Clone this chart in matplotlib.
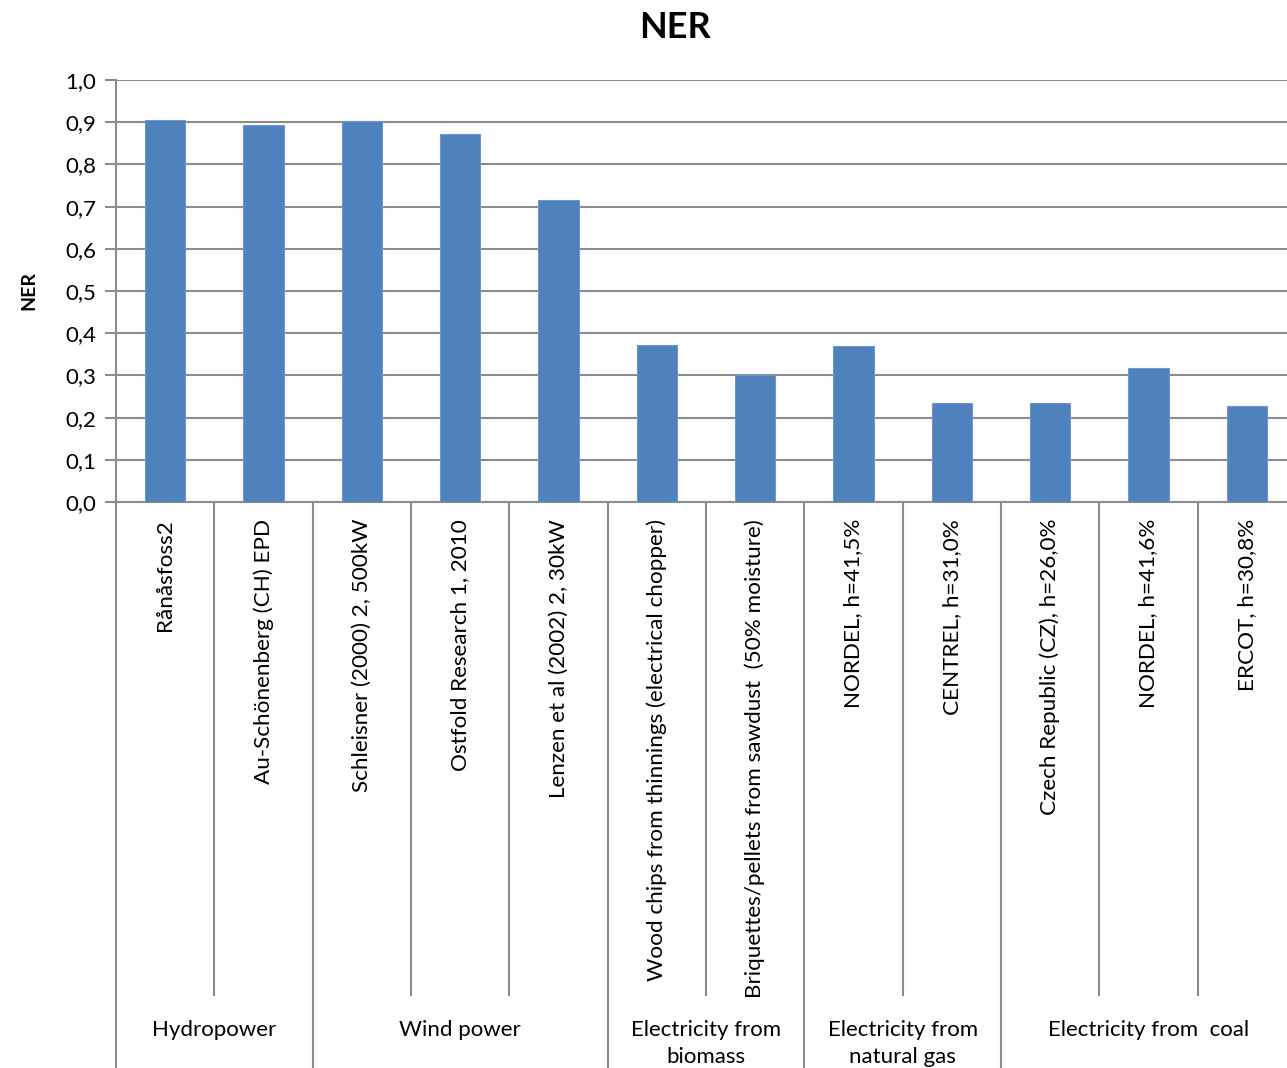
import matplotlib
import matplotlib.pyplot as plt
from matplotlib.ticker import FuncFormatter, MultipleLocator

matplotlib.use('Agg')

labels = [
    "Rånåsfoss2",
    "Au-Schönenberg (CH) EPD",
    "Schleisner (2000) 2, 500kW",
    "Ostfold Research 1, 2010",
    "Lenzen et al (2002) 2, 30kW",
    "Wood chips from thinnings (electrical chopper)",
    "Briquettes/pellets from sawdust  (50% moisture)",
    "NORDEL, h=41,5%",
    "CENTREL, h=31,0%",
    "Czech Republic (CZ), h=26,0%",
    "NORDEL, h=41,6%",
    "ERCOT, h=30,8%",
]
values = [0.905, 0.893, 0.902, 0.872, 0.716, 0.372, 0.300, 0.369, 0.235, 0.235, 0.317, 0.227]

groups = ["Hydropower", "Wind power", "Electricity from\nbiomass",
          "Electricity from\nnatural gas", "Electricity from  coal"]
group_sizes = [2, 3, 2, 2, 3]

plt.rcParams['font.family'] = ['Lato', 'DejaVu Sans']

grid_col = "#8c8c8c"
bar_col = "#4f81bd"

fig = plt.figure(figsize=(12.87, 10.68), dpi=100)
ax = fig.add_axes([116 / 1287, 1 - 502 / 1068, 1180 / 1287, 422 / 1068])

x = list(range(len(values)))
ax.bar(x, values, width=0.41, color=bar_col, edgecolor="#6f97cc", linewidth=0.8, zorder=3)

ax.set_xlim(-0.5, len(values) - 0.5)
ax.set_ylim(0, 1.0)
ax.yaxis.set_major_locator(MultipleLocator(0.1))
ax.yaxis.set_major_formatter(FuncFormatter(lambda v, p: f"{v:.1f}".replace(".", ",")))
ax.grid(axis="y", color=grid_col, linewidth=1.5, zorder=0)
ax.tick_params(axis="y", length=8, width=1.5, color=grid_col, labelsize=16, pad=6)
ax.set_xticks([])

for s in ["top", "right"]:
    ax.spines[s].set_visible(False)
ax.spines["left"].set_color(grid_col)
ax.spines["left"].set_linewidth(1.5)
ax.spines["bottom"].set_color(grid_col)
ax.spines["bottom"].set_linewidth(1.5)

trans = ax.get_xaxis_transform()

# category labels
for i, lab in enumerate(labels):
    ax.text(i, -0.04, lab, rotation=90, ha="center", va="top",
            fontsize=16.2, transform=trans)

# separators
inner_y = -(995 - 502) / 422
bottom_y = -(1068 - 502) / 422
bounds = [0]
for g in group_sizes:
    bounds.append(bounds[-1] + g)
for b in range(len(values) + 1):
    y_end = bottom_y if b in bounds else inner_y
    ax.plot([b - 0.5, b - 0.5], [0, y_end], color=grid_col, linewidth=1.5,
            transform=trans, clip_on=False)

# group labels
for k, g in enumerate(groups):
    center = (bounds[k] + bounds[k + 1]) / 2 - 0.5
    ax.text(center, -(1020 - 502) / 422, g, ha="center", va="top",
            fontsize=16, transform=trans, linespacing=1.45)

ax.set_ylabel("NER", fontsize=14, fontweight="bold", labelpad=20)
fig.text(675 / 1287, 1 - 28 / 1068, "NER", ha="center", va="center",
         fontsize=26, fontweight="bold")

plt.savefig("out.png", dpi=100)
plt.close()
